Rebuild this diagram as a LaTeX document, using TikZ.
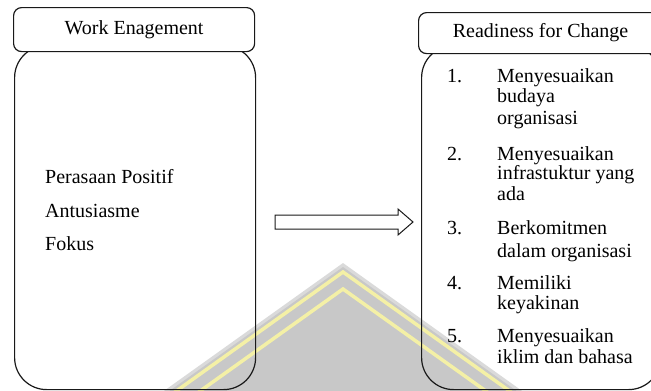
\documentclass[tikz,border=0pt]{standalone}
\usepackage{fontspec}
\setmainfont{Liberation Serif}
\definecolor{wmgray}{HTML}{C8C8C8}
\definecolor{wmlight}{HTML}{DADADA}
\definecolor{wmyellow}{HTML}{F4F0A6}
\begin{document}
\begin{tikzpicture}[x=1pt,y=-1pt,
  boxline/.style={draw=black!90, line width=1.2pt},
  bodybox/.style={boxline, rounded corners=32pt, anchor=north west, inner sep=0pt},
  headbox/.style={boxline, fill=white, rounded corners=8pt, anchor=north west, inner sep=0pt},
  txt/.style={anchor=base west, inner sep=0pt, font=\fontsize{20}{24}\selectfont},
  htxt/.style={font=\fontsize{20}{24}\selectfont}]
\useasboundingbox (0,0) rectangle (651,391);
\clip (0,0) rectangle (651,391);
% watermark
\fill[wmlight] (343,263) -- (567,423) -- (119,423) -- cycle;
\fill[wmgray] (343,267) -- (567,427) -- (119,427) -- cycle;
\draw[wmyellow, line width=3.5pt] (119,432) -- (343,272) -- (567,432);
\draw[wmyellow, line width=3.5pt] (119,449) -- (343,289) -- (567,449);
% left box
\node[bodybox, minimum width=241pt, minimum height=344pt] (lbody) at (14,45) {};
\node[headbox, minimum width=241pt, minimum height=44pt] (lhead) at (13,7) {};
\node[htxt] (lheadtxt) at (lhead.center) {Work Enagement};
% right box
\node[bodybox, minimum width=239pt, minimum height=344pt] (rbody) at (421,45) {};
\node[headbox, minimum width=244pt, minimum height=41pt] (rhead) at (418,12) {};
\node[htxt] (rheadtxt) at (rhead.center) {Readiness for Change};
% left items
\node[txt] (l1) at (45,183) {Perasaan Positif};
\node[txt] (l2) at (45,217) {Antusiasme};
\node[txt] (l3) at (45,250) {Fokus};
% right list
\node[txt] (n1) at (447,82) {1.};
\node[txt] (r1a) at (497,82) {Menyesuaikan};
\node[txt] (r1b) at (497,102) {budaya};
\node[txt] (r1c) at (497,124) {organisasi};
\node[txt] (n2) at (447,160) {2.};
\node[txt] (r2a) at (497,160) {Menyesuaikan};
\node[txt] (r2b) at (497,179) {infrastuktur yang};
\node[txt] (r2c) at (497,200) {ada};
\node[txt] (n3) at (447,234) {3.};
\node[txt] (r3a) at (497,234) {Berkomitmen};
\node[txt] (r3b) at (497,257) {dalam organisasi};
\node[txt] (n4) at (447,289) {4.};
\node[txt] (r4a) at (497,289) {Memiliki};
\node[txt] (r4b) at (497,309) {keyakinan};
\node[txt] (n5) at (447,342) {5.};
\node[txt] (r5a) at (497,342) {Menyesuaikan};
\node[txt] (r5b) at (497,363) {iklim dan bahasa};
% block arrow
\coordinate (atail) at (275,222);
\draw[line width=1pt, draw=black!90] (atail) ++(0,-7) -- ++(123,0) -- ++(0,-6) -- ++(15,13) -- ++(-15,13) -- ++(0,-6) -- ++(-123,0) -- cycle;
\end{tikzpicture}
\end{document}
